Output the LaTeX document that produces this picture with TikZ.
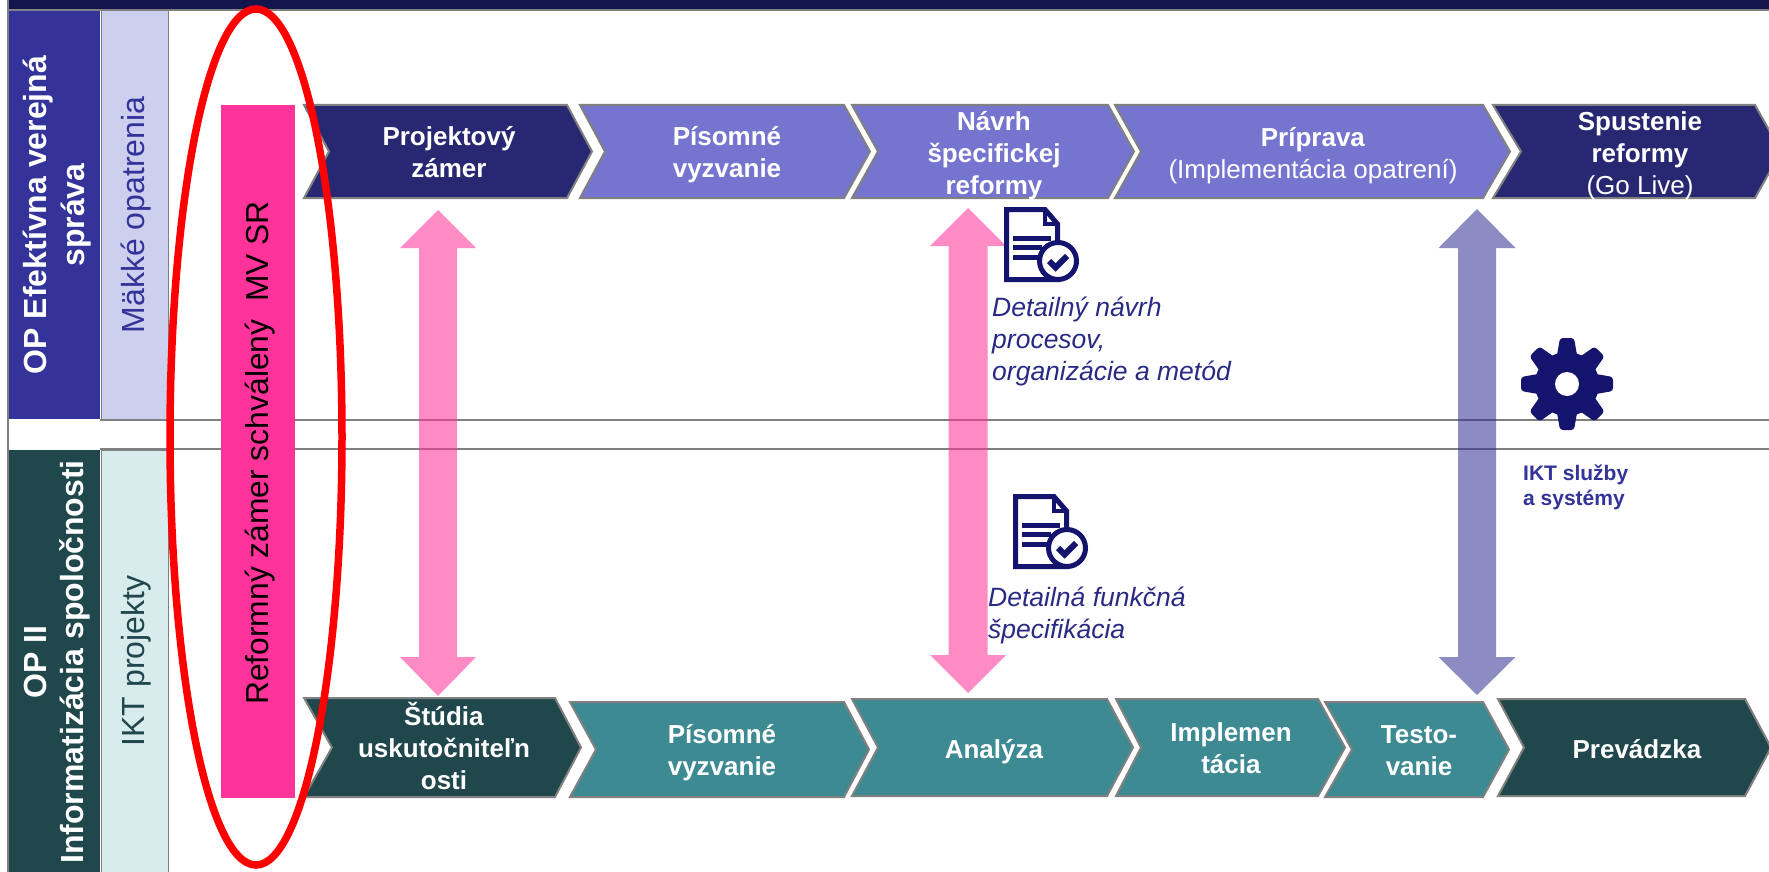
\documentclass[tikz,border=0pt]{standalone}
\usepackage{fontspec}
\setmainfont{Liberation Sans}
\definecolor{bandc}{HTML}{15154D}
\definecolor{framec}{HTML}{808080}
\definecolor{navyc}{HTML}{282872}
\definecolor{purplec}{HTML}{7575CF}
\definecolor{tealc}{HTML}{3E8A92}
\definecolor{dtealc}{HTML}{20474B}
\definecolor{bluecol}{HTML}{333399}
\definecolor{lightcol}{HTML}{CDCFEE}
\definecolor{lightteal}{HTML}{D8ECEE}
\definecolor{pinkbar}{HTML}{FF3399}
\definecolor{pinkarr}{HTML}{FF339A}
\definecolor{bluearr}{HTML}{2E2E93}
\definecolor{iconc}{HTML}{14146F}
\definecolor{italc}{HTML}{2A2A85}
\tikzset{
  chevshape/.style={draw=framec,line width=2pt,line join=miter},
  chevtext/.style={text=white,align=center,inner sep=0pt,font=\fontsize{26}{32}\selectfont},
  sidehead/.style={text=white,align=center,inner sep=0pt,rotate=90,font=\bfseries\fontsize{32}{37.5}\selectfont},
  sidesub/.style={align=center,inner sep=0pt,rotate=90,font=\fontsize{32}{37.5}\selectfont},
  gridline/.style={draw=framec,line width=2pt},
  pinkblock/.style={fill=pinkarr,fill opacity=.57},
  blueblock/.style={fill=bluearr,fill opacity=.55},
  italnote/.style={text=italc,anchor=base west,align=left,inner sep=0pt,font=\itshape\fontsize{26.5}{32}\selectfont},
  docicon/.pic={
    \draw[iconc,line width=5pt,line join=miter,fill=white]
      (2.5,2.5) -- (41,2.5) -- (53.5,17) -- (53.5,72.5) -- (2.5,72.5) -- cycle;
    \draw[iconc,line width=4.5pt,line join=miter] (41,2.5) -- (41,17) -- (53.5,17);
    \draw[iconc,line width=5pt] (9,31) -- (47,31) (9,40) -- (38,40) (9,50) -- (36,50);
    \draw[iconc,line width=5pt,fill=white] (54,54) circle[radius=18.5];
    \draw[iconc,line width=6pt,line join=miter] (45,54) -- (51.5,60.5) -- (63,49);
  }
}
% #1 left #2 notch #3 shoulder #4 tip #5 top #6 bottom #7 fill
\newcommand\chevron[7]{%
  \path[chevshape,fill=#7] (#1,#5) -- (#3,#5) -- (#4,{(#5+#6)/2}) -- (#3,#6) -- (#1,#6) -- (#2,{(#5+#6)/2}) -- cycle;}
% #1 centre x #2 half shaft #3 half head #4 top tip #5 top shoulder #6 bottom shoulder #7 bottom tip #8 style
\newcommand\blockarrow[8]{%
  \path[#8] (#1,#4) -- ({#1+#3},#5) -- ({#1+#2},#5) -- ({#1+#2},#6) -- ({#1+#3},#6) -- (#1,#7)
    -- ({#1-#3},#6) -- ({#1-#2},#6) -- ({#1-#2},#5) -- ({#1-#3},#5) -- cycle;}
\begin{document}
\begin{tikzpicture}[x=1pt,y=-1pt]
\useasboundingbox (0,0) rectangle (1769,872);
\clip (0,0) rectangle (1769,872);
\fill[white] (0,0) rectangle (1769,872);
% frame and band
\fill[bandc] (8,0) rectangle (1769,9);
\draw[gridline] (8,10) -- (1769,10);
\draw[gridline] (8,0) -- (8,872);
\draw[gridline] (100,420) -- (1769,420);
\draw[gridline] (100,449) -- (1769,449);
% side columns
\fill[bluecol] (9,11) rectangle (100,419);
\path[fill=lightcol,draw=framec,line width=1pt] (101,11) rectangle (168,419);
\fill[dtealc] (9,450) rectangle (100,872);
\path[fill=lightteal,draw=framec,line width=1pt] (101,450) rectangle (168,873);
\node[sidehead] (opevs) at (57,215) {OP Efektívna verejná\\správa};
\node[sidesub,text=bluecol] (makke) at (136,215) {Mäkké opatrenia};
\node[sidehead] (opii) at (57,662) {OP II\\Informatizácia spoločnosti};
\node[sidesub,text=dtealc] (ikt) at (136,661) {IKT projekty};
% top chevrons
\chevron{304}{329}{567}{592}{105}{198}{navyc}
\chevron{580}{605}{844}{870}{105}{198}{purplec}
\chevron{852}{878}{1108}{1134}{105}{198}{purplec}
\chevron{1115}{1141}{1483}{1510}{105}{198}{purplec}
\chevron{1493}{1521}{1755}{1781}{105}{198}{navyc}
\node[chevtext] (t1) at (449,152) {\textbf{Projektový}\\\textbf{zámer}};
\node[chevtext] (t2) at (727,155) {\textbf{Písomné}\\\textbf{vyzvanie}};
\node[chevtext] (t3) at (994,156) {\textbf{Návrh}\\\textbf{špecifickej}\\\textbf{reformy}};
\node[chevtext] (t4) at (1313,156) {\textbf{Príprava}\\(Implementácia opatrení)};
\node[chevtext] (t5) at (1640,156) {\textbf{Spustenie}\\\textbf{reformy}\\(Go Live)};
% bottom chevrons
\chevron{304}{332}{555}{581}{698}{797}{dtealc}
\chevron{570}{596}{844}{869}{702}{797}{tealc}
\chevron{852}{878}{1107}{1133}{699}{796}{tealc}
\chevron{1116}{1141}{1318}{1345}{699}{796}{tealc}
\chevron{1325}{1352}{1483}{1509}{702}{797}{tealc}
\chevron{1498}{1524}{1745}{1771}{699}{796}{dtealc}
\node[chevtext] (b1) at (444,746) {\textbf{Štúdia}\\\textbf{uskutočniteľn}\\\textbf{osti}};
\node[chevtext] (b2) at (722,753) {\textbf{Písomné}\\\textbf{vyzvanie}};
\node[chevtext] (b3) at (994,752) {\textbf{Analýza}};
\node[chevtext] (b4) at (1231,748) {\textbf{Implemen}\\\textbf{tácia}};
\node[chevtext] (b5) at (1419,751) {\textbf{Testo-}\\\textbf{vanie}};
\node[chevtext] (b6) at (1637,749) {\textbf{Prevádzka}};
% vertical block arrows
\blockarrow{438}{19}{38}{210}{248}{657}{696}{pinkblock}
\blockarrow{968}{19.5}{38}{208}{246}{655}{693}{pinkblock}
\blockarrow{1477}{19}{38.5}{209}{248}{657}{695}{blueblock}
% icons
\pic at (1004,207) {docicon};
\pic at (1013,494) {docicon};
\node[italnote] (n1) at (992,380) {Detailný návrh\\procesov,\\organizácie a metód};
\node[italnote] (n2) at (988,638) {Detailná funkčná\\špecifikácia};
% gear
\begin{scope}[shift={(1567,384)}]
  \fill[iconc] (0,0) circle[radius=32];
  \foreach \a in {0,45,...,315}{
    \fill[iconc,rotate=\a,rounded corners=3pt] (-10.5,-26) -- (-7,-46) -- (7,-46) -- (10.5,-26) -- cycle;
  }
  \fill[white] (0,0) circle[radius=12];
\end{scope}
\node[anchor=base west,align=left,inner sep=0pt,text=bluecol,font=\bfseries\fontsize{21}{25}\selectfont] (n3) at (1523,505) {IKT služby\\a systémy};
% pink bar and red ellipse
\fill[pinkbar] (221,105) rectangle (295,798);
\node[rotate=90,inner sep=0pt,text=black,font=\fontsize{31.8}{37}\selectfont] (reform) at (260,453) {Reformný zámer schválený\ \ MV SR};
\draw[red,line width=7.5pt] (256,437) ellipse[x radius=86,y radius=428];
\end{tikzpicture}
\end{document}
